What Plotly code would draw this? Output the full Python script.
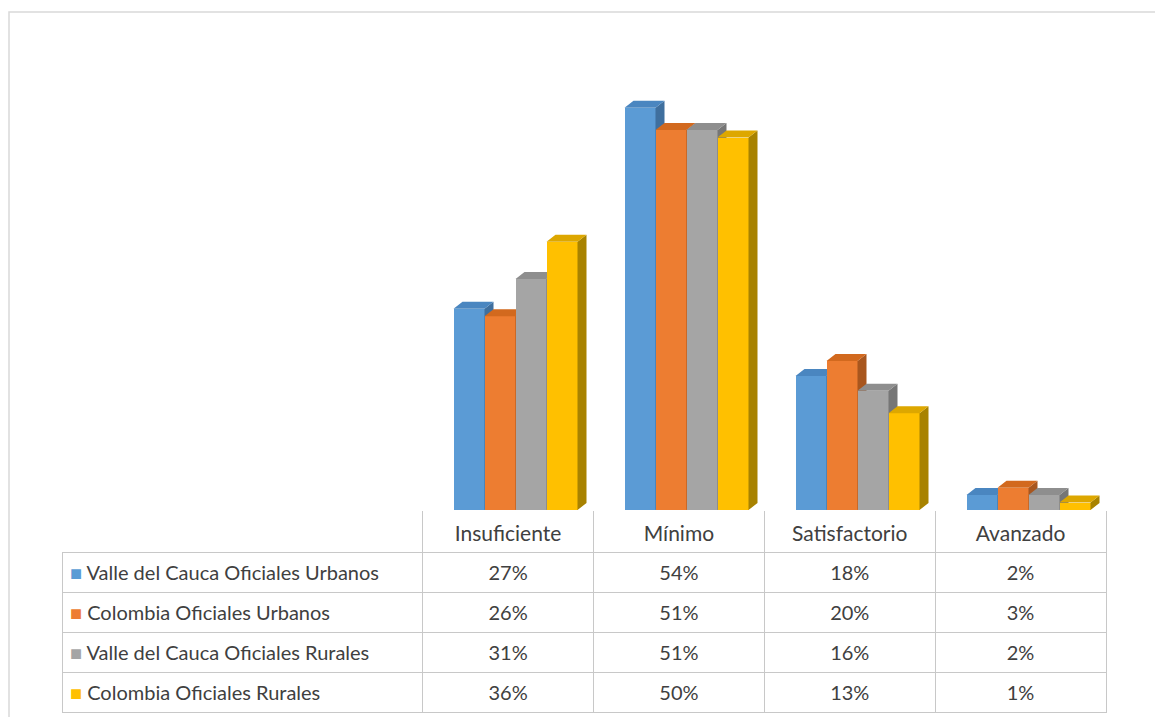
import plotly.graph_objects as go

# categories and series values (percent)
categories = ["Insuficiente", "Mínimo", "Satisfactorio", "Avanzado"]
series_names = [
    "Valle del Cauca Oficiales Urbanos",
    "Colombia Oficiales Urbanos",
    "Valle del Cauca Oficiales Rurales",
    "Colombia Oficiales Rurales",
]
valle_urbanos = [27, 54, 18, 2]
colombia_urbanos = [26, 51, 20, 3]
valle_rurales = [31, 51, 16, 2]
colombia_rurales = [36, 50, 13, 1]

series_values = [valle_urbanos, colombia_urbanos, valle_rurales, colombia_rurales]

# front / top / side colours for each series
front_colors = ["#5B9BD5", "#ED7D31", "#A5A5A5", "#FFC000"]
top_colors = ["#4A86C0", "#D2691E", "#8E8E8E", "#DDA700"]
side_colors = ["#3F6F9E", "#A8561E", "#767676", "#A88200"]

W, H = 1163, 717
PAGE_OFF = 8  # the html body margin shifts the figure by 8px


def px_x(p):
    return (p - PAGE_OFF) / W


def px_y(p):
    return 1 - (p - PAGE_OFF) / H


# bar geometry (category units / percent units)
bar_w = 31 / 171
start_off = -54 / 171
dx = 9 / 171
y_top = (510 - 12) / 7.45
dy = 7 / 7.45

fig = go.Figure()

x_idx = list(range(len(categories)))
for k, (name, vals) in enumerate(zip(series_names, series_values)):
    xa = "x" if k == 0 else "x%d" % (k + 1)
    ya = "y" if k == 0 else "y%d" % (k + 1)
    off = start_off + k * bar_w
    fig.add_trace(go.Bar(
        x=x_idx, y=vals, width=bar_w, offset=off, name=name,
        marker=dict(color=front_colors[k], line=dict(width=0)),
        xaxis=xa, yaxis=ya, showlegend=False, hoverinfo="y+name",
    ))
    # 3D top and side faces, computed from the values through the axes
    tx, ty, sx, sy = [], [], [], []
    for i, v in zip(x_idx, vals):
        x0 = i + off
        x1 = x0 + bar_w
        tx += [x0, x0 + dx, x1 + dx, x1, x0, None]
        ty += [v, v + dy, v + dy, v, v, None]
        sx += [x1, x1 + dx, x1 + dx, x1, x1, None]
        sy += [0, dy, v + dy, v, 0, None]
    fig.add_trace(go.Scatter(
        x=sx, y=sy, mode="lines", fill="toself", fillcolor=side_colors[k],
        line=dict(width=0, color=side_colors[k]), xaxis=xa, yaxis=ya,
        showlegend=False, hoverinfo="skip",
    ))
    fig.add_trace(go.Scatter(
        x=tx, y=ty, mode="lines", fill="toself", fillcolor=top_colors[k],
        line=dict(width=0, color=top_colors[k]), xaxis=xa, yaxis=ya,
        showlegend=False, hoverinfo="skip",
    ))

# data table below the bars
# trailing <br> stops plotly's table from word-wrapping (and breaking the span tag)
first_col = [
    '<span style="color:%s">■</span> %s<br>' % (c, n)
    for c, n in zip(front_colors, series_names)
]
value_cols = [[f"{s[i]}%<br>" for s in series_values] for i in range(len(categories))]

fig.add_trace(go.Table(
    domain=dict(x=[px_x(62), px_x(1106)], y=[px_y(714), px_y(517)]),
    columnwidth=[361, 171, 171, 171, 171],
    header=dict(
        values=[""] + categories,
        fill=dict(color="rgba(0,0,0,0)"),
        line=dict(color="rgba(0,0,0,0)", width=0),
        align="center", height=35,
        font=dict(family="Lato", size=21, color="#404040"),
    ),
    cells=dict(
        values=[first_col] + value_cols,
        fill=dict(color="white"),
        line=dict(color="#C8C8C8", width=1),
        align=["left", "center", "center", "center", "center"],
        height=39,
        font=dict(family="Lato", size=20, color="#404040"),
    ),
))

dom_x = [px_x(422), px_x(1106)]
dom_y = [px_y(510), px_y(12)]
layout = dict(
    width=W, height=H,
    margin=dict(l=0, r=0, t=0, b=0),
    paper_bgcolor="white", plot_bgcolor="rgba(0,0,0,0)",
    bargap=0, barmode="overlay",
    xaxis=dict(domain=dom_x, range=[-0.5, 3.5], tickvals=[-0.5, 0.5, 1.5, 2.5, 3.5],
               ticks="outside", ticklen=42, tickcolor="#C8C8C8", tickwidth=1,
               showticklabels=False, showgrid=False, zeroline=False, showline=False,
               fixedrange=True),
    yaxis=dict(domain=dom_y, range=[0, y_top], visible=False, fixedrange=True),
    shapes=[dict(type="rect", xref="paper", yref="paper",
                 x0=px_x(9), x1=px_x(1180), y0=px_y(740), y1=px_y(12),
                 line=dict(color="#D9D9D9", width=1.5), fillcolor="rgba(0,0,0,0)",
                 layer="below")],
)
for k in range(2, 5):
    layout["xaxis%d" % k] = dict(overlaying="x", range=[-0.5, 3.5], visible=False,
                                 fixedrange=True)
    layout["yaxis%d" % k] = dict(overlaying="y", range=[0, y_top], visible=False,
                                 fixedrange=True)

fig.update_layout(**layout)

fig.write_html("out.html")
